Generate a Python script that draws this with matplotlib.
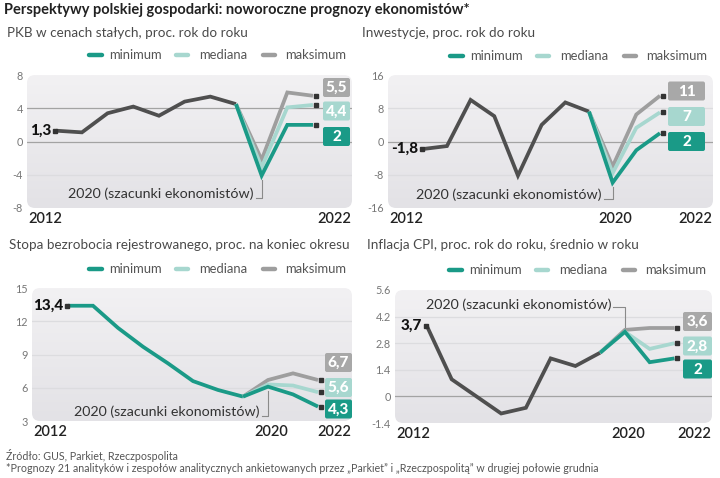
import matplotlib
matplotlib.use("Agg")
import matplotlib.pyplot as plt
import numpy as np
from matplotlib.patches import FancyBboxPatch

plt.rcParams['font.family'] = ['Lato', 'DejaVu Sans']

W, H = 720, 478

# --- data ---
hist_years = [2012, 2013, 2014, 2015, 2016, 2017, 2018, 2019]
fc_years = [2019, 2020, 2021, 2022]

pkb_hist = [1.3, 1.1, 3.4, 4.2, 3.1, 4.8, 5.4, 4.5]
pkb_min = [4.5, -4.1, 2.0, 2.0]
pkb_med = [4.5, -3.1, 4.1, 4.4]
pkb_max = [4.5, -2.2, 5.9, 5.5]

inw_hist = [-1.8, -1.1, 10.0, 6.1, -8.2, 4.0, 9.4, 7.2]
inw_min = [7.2, -9.9, -2.1, 2.0]
inw_med = [7.2, -7.6, 3.3, 7.0]
inw_max = [7.2, -6.0, 6.5, 11.0]

bez_hist = [13.4, 13.4, 11.4, 9.7, 8.2, 6.6, 5.8, 5.2]
bez_min = [5.2, 6.1, 5.4, 4.3]
bez_med = [5.2, 6.3, 6.2, 5.6]
bez_max = [5.2, 6.7, 7.3, 6.7]

cpi_hist = [3.7, 0.9, 0.0, -0.9, -0.6, 2.0, 1.6, 2.3]
cpi_min = [2.3, 3.4, 1.8, 2.0]
cpi_med = [2.3, 3.4, 2.5, 2.8]
cpi_max = [2.3, 3.5, 3.6, 3.6]

series_names = ["minimum", "mediana", "maksimum"]

TEAL = "#1a9a87"
LIGHT = "#a7d7cf"
GRAY = "#9e9e9e"
BOXGRAY = "#a8a8a8"
DARK = "#4f4f4f"

panels = [
    dict(title="PKB w cenach stałych, proc. rok do roku", tx=7, ty=33,
         rect=(27, 75, 352, 208), ylim=(-8, 8), yticks=[-8, -4, 0, 4, 8],
         ylabels=["-8", "-4", "0", "4", "8"], xlim=(2010.86, 2023.52),
         hist=pkb_hist, mn=pkb_min, md=pkb_med, mx=pkb_max, hist_color=DARK,
         dark_grid=[0, 4], legend_y=55, boxes=(323, 350, [87.5, 111, 136.5]),
         note=(254, 194), note_below=True, show2020=False),
    dict(title="Inwestycje, proc. rok do roku", tx=362, ty=33,
         rect=(388, 75, 713, 208), ylim=(-16, 16), yticks=[-16, -8, 0, 8, 16],
         ylabels=["-16", "-8", "0", "8", "16"], xlim=(2010.51, 2024.24),
         hist=inw_hist, mn=inw_min, md=inw_med, mx=inw_max, hist_color=DARK,
         dark_grid=[0], legend_y=56, boxes=(668, 705, [91, 116.5, 141.5]),
         note=(602, 195), note_below=True, show2020=True),
    dict(title="Stopa bezrobocia rejestrowanego, proc. na koniec okresu", tx=9, ty=245,
         rect=(32, 288, 352, 421), ylim=(3, 15), yticks=[3, 6, 9, 12, 15],
         ylabels=["3", "6", "9", "12", "15"], xlim=(2010.56, 2023.36),
         hist=bez_hist, mn=bez_min, md=bez_med, mx=bez_max, hist_color=TEAL,
         dark_grid=[], legend_y=269, boxes=(325, 352, [362.5, 387.5, 409]),
         note=(260, 412), note_below=True, show2020=True),
    dict(title="Inflacja CPI, proc. rok do roku, średnio w roku", tx=367, ty=245,
         rect=(395, 290, 712, 423), ylim=(-1.4, 5.6), yticks=[-1.4, 0, 1.4, 2.8, 4.2, 5.6],
         ylabels=["-1.4", "0", "1.4", "2.8", "4.2", "5.6"], xlim=(2010.71, 2023.52),
         hist=cpi_hist, mn=cpi_min, md=cpi_med, mx=cpi_max, hist_color=DARK,
         dark_grid=[0], legend_y=270, boxes=(683, 712, [321.5, 346, 369]),
         note=(611, 305), note_below=False, show2020=True),
]


def fmt(v):
    s = ("%.1f" % v).rstrip("0").rstrip(".")
    return s.replace(".", ",")


fig = plt.figure(figsize=(W / 100, H / 100), dpi=100)
fig.patch.set_facecolor("white")

# overlay in pixel coordinates (y downwards)
ov = fig.add_axes([0, 0, 1, 1])
ov.set_xlim(0, W)
ov.set_ylim(H, 0)
ov.axis("off")
ov.set_zorder(10)
ov.patch.set_alpha(0)

fig.text(4 / W, 1 - 10 / H, "Perspektywy polskiej gospodarki: noworoczne prognozy ekonomistów*",
         fontsize=10.5, fontweight="bold", color="#222222", va="center", ha="left")


def to_px(ax, x, y):
    px, py = ax.transData.transform((x, y))
    return px, H - py


for p in panels:
    l, t, r, b = p["rect"]
    rect = [l / W, 1 - b / H, (r - l) / W, (b - t) / H]

    # rounded gradient background
    bg = fig.add_axes(rect)
    bg.set_xlim(0, r - l)
    bg.set_ylim(0, b - t)
    bg.axis("off")
    patch = FancyBboxPatch((0, 0), r - l, b - t, boxstyle="round,pad=0,rounding_size=8",
                           facecolor="none", edgecolor="none")
    bg.add_patch(patch)
    grad = np.linspace(0, 1, 64).reshape(-1, 1)
    img = bg.imshow(grad, extent=[0, r - l, 0, b - t], aspect="auto", origin="lower",
                    cmap=matplotlib.colors.LinearSegmentedColormap.from_list("g", ["#e3e2e6", "#f2f1f3"]))
    img.set_clip_path(patch)

    ax = fig.add_axes(rect)
    ax.patch.set_alpha(0)
    for s in ax.spines.values():
        s.set_visible(False)
    ax.set_xlim(*p["xlim"])
    ax.set_ylim(*p["ylim"])
    ax.set_xticks([])
    ax.set_yticks(p["yticks"])
    ax.set_yticklabels(p["ylabels"])
    ax.tick_params(axis="y", length=0, pad=3, labelsize=7.8, labelcolor="#777777")
    for yt in p["yticks"][1:-1]:
        c = "#a3a3a3" if yt in p["dark_grid"] else "#dcdcdf"
        ax.axhline(yt, color=c, lw=0.9, zorder=1)

    ax.plot(hist_years, p["hist"], color=p["hist_color"], lw=2.7, zorder=3,
            solid_joinstyle="miter", solid_capstyle="butt")
    for vals, col in [(p["mx"], GRAY), (p["md"], LIGHT), (p["mn"], TEAL)]:
        ax.plot(fc_years, vals, color=col, lw=2.7, zorder=4,
                solid_joinstyle="miter", solid_capstyle="butt")

    # start dot and label
    sx, sy = to_px(ax, hist_years[0], p["hist"][0])
    ov.plot(sx - 1, sy, marker="s", ms=2.2, color="#333333", lw=0)
    ov.text(sx - 5, sy, fmt(p["hist"][0]), ha="right", va="center",
            fontsize=11, fontweight="black", color="#111111")

    # end dots and value boxes
    bx0, bx1, bys = p["boxes"]
    for vals, col, by in zip([p["mx"], p["md"], p["mn"]], [BOXGRAY, LIGHT, TEAL], bys):
        ex, ey = to_px(ax, fc_years[-1], vals[-1])
        ov.plot(ex + 3, ey, marker="s", ms=2.2, color="#333333", lw=0)
        ov.add_patch(FancyBboxPatch((bx0, by - 9.5), bx1 - bx0, 19,
                                    boxstyle="round,pad=0,rounding_size=2",
                                    facecolor=col, edgecolor="none"))
        ov.text((bx0 + bx1) / 2, by + 0.5, fmt(vals[-1]), ha="center", va="center",
                fontsize=11, fontweight="black", color="white")

    # note with leader line
    nx, ny = p["note"]
    ov.text(nx, ny, "2020 (szacunki ekonomistów)", ha="right", va="center",
            fontsize=10.3, color="#333333")
    x20, y20 = to_px(ax, 2020, min(p["mn"][1], p["md"][1], p["mx"][1]) if p["note_below"]
                     else max(p["mn"][1], p["md"][1], p["mx"][1]))
    ly = ny + 4 if p["note_below"] else ny + 2
    tip = y20 + 4 if p["note_below"] else y20 - 3
    ov.plot([nx + 2, x20, x20], [ly, ly, tip], color="#8a8a8a", lw=0.8)

    # year labels
    ov.text(l + 1, b + 11, "2012", ha="left", va="center", fontsize=10.5,
            fontweight="semibold", color="#222222")
    ov.text(r - 1, b + 11, "2022", ha="right", va="center", fontsize=10.5,
            fontweight="semibold", color="#222222")
    if p["show2020"]:
        x20c, _ = to_px(ax, 2020, 0)
        ov.text(x20c + 3, b + 11, "2020", ha="center", va="center", fontsize=10.5,
                fontweight="semibold", color="#222222")

    # title
    ov.text(p["tx"], p["ty"], p["title"], ha="left", va="center", fontsize=9.7,
            fontweight="normal", color="#4a4a4a")

    # legend
    ly = p["legend_y"]
    for (h0, h1, t0), name, col in zip([(r - 263, r - 250, r - 243), (r - 176, r - 164, r - 153),
                                        (r - 89, r - 77, r - 67)], series_names, [TEAL, LIGHT, GRAY]):
        ov.plot([h0, h1], [ly, ly], color=col, lw=3.2, solid_capstyle="round")
        ov.text(t0, ly, name, ha="left", va="center", fontsize=9.4,
                fontweight="normal", color="#555555")

fig.text(6 / W, 1 - 455 / H, "Źródło: GUS, Parkiet, Rzeczpospolita", fontsize=7.7,
         color="#555555", va="center")
fig.text(6 / W, 1 - 469 / H,
         "*Prognozy 21 analityków i zespołów analitycznych ankietowanych przez „Parkiet\u201d i „Rzeczpospolitą\u201d w drugiej połowie grudnia",
         fontsize=7.7, color="#555555", va="center")

fig.savefig("out.png", dpi=100)
